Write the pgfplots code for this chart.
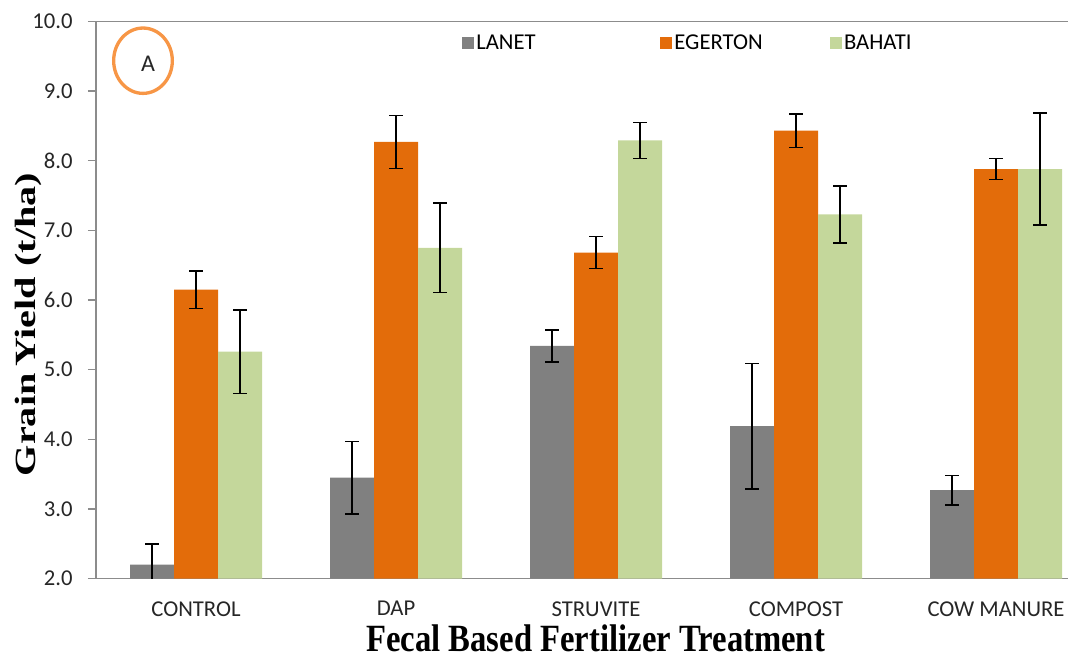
\documentclass[border=0pt]{standalone}
\usepackage{pgfplots}
\pgfplotsset{compat=1.18}
\usepackage{fontspec}
\setmainfont{Carlito}
\newfontfamily\tnr{Liberation Serif}
\definecolor{cgray}{HTML}{808080}
\definecolor{corange}{HTML}{E36C0A}
\definecolor{cgreen}{HTML}{C4D79B}
\definecolor{ccirc}{HTML}{F79646}
\definecolor{caxis}{HTML}{8C8C8C}
\begin{document}
\begin{tikzpicture}
\path[use as bounding box] (0,0) rectangle (801pt,490pt);
\begin{axis}[
  at={(72pt,56pt)}, anchor=south west,
  scale only axis, width=729pt, height=418pt,
  ybar=0pt, bar width=33pt,
  xmin=-0.5, xmax=4.36, ymin=2, ymax=10,
  ytick={2,3,...,10},
  yticklabel style={/pgf/number format/fixed,/pgf/number format/fixed zerofill,/pgf/number format/precision=1},
  /pgf/number format/assume math mode=true,
  xtick={0,1,2,3,4},
  xticklabels={CONTROL,DAP,STRUVITE,COMPOST,COW MANURE},
  extra x ticks={-0.5,0.5,1.5,2.5,3.5},
  extra x tick labels={},
  extra x tick style={major tick length=6pt, tick style={caxis, line width=0.8pt}},
  x tick style={draw=none},
  y tick style={caxis, line width=0.8pt},
  major tick length=6pt,
  tick align=outside,
  axis x line*=bottom, axis y line*=left,
  axis line style={caxis, line width=0.9pt, -},
  ticklabel style={font=\fontsize{17}{19}\selectfont, text=black!85},
  xticklabel style={yshift=-7.5pt},
  yticklabel style={xshift=-8pt},
  xlabel={\scalebox{1}[1.18]{\tnr\bfseries Fecal Based Fertilizer Treatment}},
  xlabel style={font=\fontsize{24.5}{26}\selectfont, at={(axis description cs:0.514,-0.131)}, anchor=base, inner sep=0pt},
  ylabel={\scalebox{1.37}[1]{\tnr\bfseries Grain\,Yield (t/ha)}},
  ylabel style={font=\fontsize{22}{24}\selectfont, at={(axis description cs:-0.069,0.456)}, anchor=center},
  legend columns=3,
  legend style={draw=none, fill=none, at={(axis description cs:0.3725,0.9605)}, anchor=west,
    font=\fontsize{17}{19}\selectfont, nodes={inner sep=1.5pt},
    /tikz/column 2/.style={column sep=92pt},
    /tikz/column 4/.style={column sep=49pt}},
  legend image code/.code={\fill[#1] (0pt,-4.5pt) rectangle (9pt,4.5pt);},
  error bars/y dir=both, error bars/y explicit,
  error bars/error bar style={black, line width=1.2pt},
  error bars/error mark options={rotate=90, black, mark size=5pt, line width=1.2pt},
]
\addplot[fill=cgray, draw=none] coordinates {
  (0,2.20) +- (0,0.30)
  (1,3.45) +- (0,0.52)
  (2,5.34) +- (0,0.23)
  (3,4.19) +- (0,0.90)
  (4,3.27) +- (0,0.21)
};
\addplot[fill=corange, draw=none] coordinates {
  (0,6.15) +- (0,0.27)
  (1,8.27) +- (0,0.38)
  (2,6.68) +- (0,0.23)
  (3,8.43) +- (0,0.24)
  (4,7.88) +- (0,0.15)
};
\addplot[fill=cgreen, draw=none] coordinates {
  (0,5.26) +- (0,0.60)
  (1,6.75) +- (0,0.64)
  (2,8.29) +- (0,0.26)
  (3,7.23) +- (0,0.41)
  (4,7.88) +- (0,0.80)
};
\legend{LANET,EGERTON,BAHATI}
\draw[caxis, line width=0.9pt] (rel axis cs:0,1) -- (rel axis cs:1,1);
\draw[ccirc, line width=2.5pt] (axis cs:-0.265,9.435) ellipse [x radius=22pt, y radius=24.5pt];
\node[font=\fontsize{18}{20}\selectfont, text=black!85] at (axis cs:-0.24,9.39) {A};
\end{axis}
\end{tikzpicture}
\end{document}
